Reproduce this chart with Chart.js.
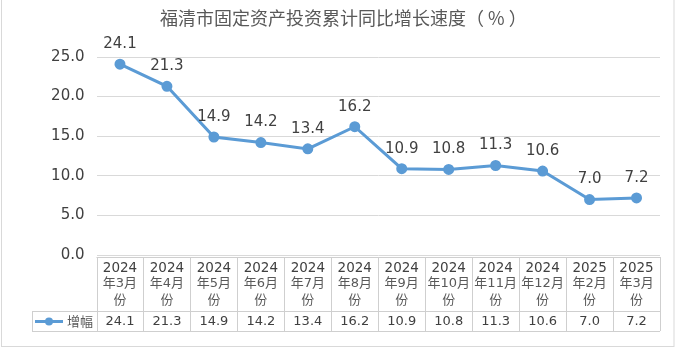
<!DOCTYPE html>
<html>
<head>
<meta charset="utf-8">
<script src="https://cdn.jsdelivr.net/npm/chart.js@4"></script>
<style>
  html, body { margin: 0; padding: 0; background: #fff; }
  #wrap { width: 676px; height: 348px; position: relative; }
</style>
</head>
<body>
<div id="wrap"><canvas id="growth"></canvas></div>
<script>
// data
const categories = ["2024年3月份", "2024年4月份", "2024年5月份", "2024年6月份", "2024年7月份", "2024年8月份",
  "2024年9月份", "2024年10月份", "2024年11月份", "2024年12月份", "2025年2月份", "2025年3月份"];
const growth = [24.1, 21.3, 14.9, 14.2, 13.4, 16.2, 10.9, 10.8, 11.3, 10.6, 7.0, 7.2];
const yTicks = [0, 5, 10, 15, 20, 25];
const seriesName = "增幅";
const titleText = "福清市固定资产投资累计同比增长速度（ % ）";

const lineColor = "#5B9BD5";
const gridColor = "#d9d9d9";
const textColor = "#404040";
const FONT = "'DejaVu Sans', 'Noto Sans CJK SC', sans-serif";

// title, value labels, data table, frame
const extras = {
  id: "extras",
  afterDraw(chart) {
    const ctx = chart.ctx;
    const area = chart.chartArea;
    const x = chart.scales.x;
    const meta = chart.getDatasetMeta(0);
    const colW = (area.right - area.left) / categories.length;

    ctx.save();
    // frame
    ctx.strokeStyle = gridColor;
    ctx.lineWidth = 1;
    ctx.strokeRect(1.5, -1, 672.5, 347.5);

    // title
    ctx.fillStyle = "#595959";
    ctx.font = "18px 'Noto Sans CJK SC', sans-serif";
    ctx.textAlign = "left";
    ctx.textBaseline = "middle";
    ctx.fillText(titleText, 160, 18);

    // value labels above points
    ctx.textAlign = "center";
    ctx.fillStyle = textColor;
    ctx.font = "15px " + FONT;
    meta.data.forEach((pt, i) => {
      ctx.fillText(growth[i].toFixed(1), pt.x, pt.y - 20);
    });

    // table grid
    const top = area.bottom + 2;
    const mid = top + 54;
    const bot = mid + 20;
    const legendLeft = 32;
    ctx.strokeStyle = "#cfcfcf";
    ctx.beginPath();
    ctx.moveTo(area.left, top + 0.5); ctx.lineTo(area.right, top + 0.5);
    ctx.moveTo(legendLeft, mid + 0.5); ctx.lineTo(area.right, mid + 0.5);
    ctx.moveTo(legendLeft, bot + 0.5); ctx.lineTo(area.right, bot + 0.5);
    ctx.moveTo(legendLeft + 0.5, mid); ctx.lineTo(legendLeft + 0.5, bot);
    for (let i = 0; i <= categories.length; i++) {
      const cx = Math.round(area.left + i * colW) + 0.5;
      ctx.moveTo(cx, top); ctx.lineTo(cx, bot);
    }
    ctx.stroke();

    // header text
    ctx.textAlign = "center";
    categories.forEach((c, i) => {
      const cx = x.getPixelForValue(i);
      const m = c.match(/^(\d{4})(年\d+月)(份)$/);
      ctx.fillStyle = textColor;
      ctx.font = "13.5px " + FONT;
      ctx.fillText(m[1], cx, top + 11);
      ctx.fillStyle = "#595959";
      ctx.font = "13px " + FONT;
      ctx.fillText(m[2], cx, top + 27);
      ctx.fillText(m[3], cx, top + 44);
      ctx.fillStyle = textColor;
      ctx.font = "13px " + FONT;
      ctx.fillText(growth[i].toFixed(1), cx, mid + 10.5);
    });

    // legend key
    const ly = mid + 10.5;
    ctx.strokeStyle = lineColor;
    ctx.lineWidth = 3;
    ctx.beginPath();
    ctx.moveTo(35, ly); ctx.lineTo(63, ly);
    ctx.stroke();
    ctx.fillStyle = lineColor;
    ctx.beginPath();
    ctx.arc(49, ly, 4, 0, Math.PI * 2);
    ctx.fill();
    ctx.fillStyle = "#595959";
    ctx.font = "13px 'Noto Sans CJK SC', sans-serif";
    ctx.textAlign = "left";
    ctx.fillText(seriesName, 67, ly);
    ctx.restore();
  }
};

new Chart(document.getElementById("growth"), {
  type: "line",
  data: {
    labels: categories,
    datasets: [{
      label: seriesName,
      data: growth,
      borderColor: lineColor,
      backgroundColor: lineColor,
      borderWidth: 3,
      pointRadius: 4,
      pointHoverRadius: 4,
      tension: 0,
    }],
  },
  options: {
    responsive: true,
    maintainAspectRatio: false,
    animation: false,
    layout: { padding: { left: 0, right: 16, top: 57, bottom: 0 } },
    plugins: {
      legend: { display: false },
      title: { display: false },
      tooltip: { enabled: false },
    },
    scales: {
      x: {
        offset: true,
        grid: { display: false },
        border: { display: false },
        ticks: { display: false },
        afterFit(s) { s.height = 93; },
      },
      y: {
        min: 0,
        max: 25,
        afterBuildTicks(s) { s.ticks = yTicks.map(v => ({ value: v })); },
        grid: { color: gridColor, lineWidth: 1, drawTicks: false },
        border: { display: false },
        ticks: {
          color: textColor,
          padding: 12,
          font: { family: FONT, size: 15 },
          callback: v => v.toFixed(1),
        },
        afterFit(s) { s.width = 96.5; },
      },
    },
  },
  plugins: [extras],
});
</script>
</body>
</html>
